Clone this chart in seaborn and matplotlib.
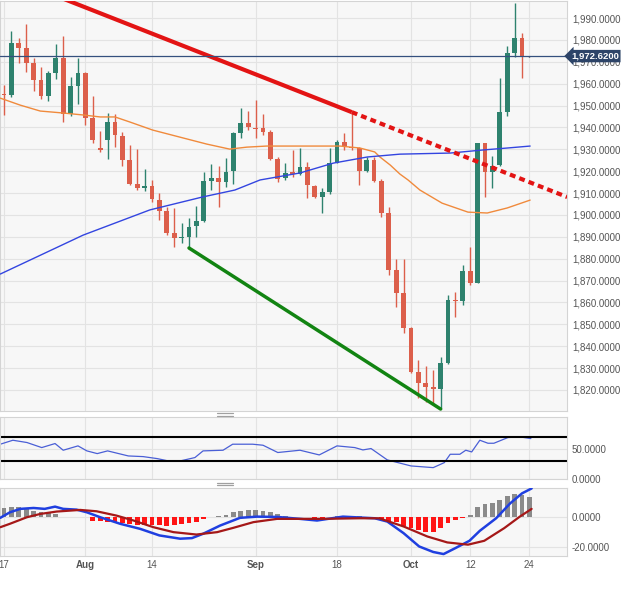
import numpy as np
import pandas as pd
import seaborn as sns
import matplotlib.pyplot as plt
import matplotlib.transforms as mtransforms
from matplotlib.lines import Line2D

# daily candles, trading days 17 Jul .. 24 Oct (index 0 .. 71)
opens = [1955.2, 1954.8, 1978.6, 1976.3, 1969.4, 1961.7, 1954.4, 1964.9, 1971.7, 1946.1,
         1958.9, 1964.9, 1944.3, 1930.5, 1934.2, 1942.5, 1936.0, 1925.1, 1914.1, 1912.3,
         1913.2, 1906.8, 1901.8, 1891.7, 1889.5, 1890.0, 1894.9, 1897.2, 1915.5, 1916.9,
         1915.0, 1920.0, 1937.4, 1942.0, 1939.7, 1939.7, 1937.9, 1925.6, 1916.9, 1919.6,
         1918.7, 1921.9, 1913.2, 1908.2, 1910.5, 1923.7, 1933.3, 1931.1, 1930.6, 1920.0,
         1925.1, 1915.5, 1900.9, 1874.9, 1864.3, 1848.3, 1828.2, 1823.2, 1821.4, 1820.4,
         1832.3, 1861.1, 1860.6, 1874.4, 1868.9, 1932.9, 1919.6, 1922.8, 1947.0, 1974.0,
         1980.9, 1972.2]
highs = [1959.4, 1984.1, 1980.9, 1987.3, 1971.7, 1967.6, 1965.8, 1978.1, 1981.8, 1963.0,
         1971.7, 1965.3, 1954.4, 1938.4, 1946.6, 1946.1, 1937.9, 1932.0, 1930.1, 1921.0,
         1916.0, 1910.0, 1903.6, 1903.2, 1896.3, 1898.6, 1904.1, 1919.6, 1923.3, 1922.4,
         1926.0, 1937.9, 1948.9, 1947.5, 1952.5, 1946.1, 1938.8, 1926.5, 1923.7, 1929.7,
         1930.6, 1924.2, 1913.7, 1912.3, 1930.6, 1934.2, 1937.4, 1947.0, 1931.1, 1926.5,
         1926.5, 1916.4, 1903.6, 1879.9, 1879.9, 1848.8, 1833.7, 1830.9, 1829.1, 1835.0,
         1863.4, 1864.8, 1877.1, 1885.3, 1932.9, 1932.9, 1926.9, 1962.6, 1977.2, 1996.9,
         1983.1, 1972.8]
lows = [1945.7, 1953.9, 1969.4, 1965.3, 1956.6, 1953.0, 1952.1, 1962.1, 1942.5, 1945.2,
        1950.7, 1941.1, 1932.9, 1928.8, 1925.6, 1931.0, 1922.4, 1913.7, 1911.4, 1910.9,
        1905.9, 1897.7, 1890.8, 1885.3, 1887.2, 1884.9, 1890.0, 1896.8, 1911.4, 1903.6,
        1912.8, 1914.1, 1935.2, 1938.8, 1935.2, 1936.5, 1925.1, 1915.0, 1916.0, 1917.3,
        1918.2, 1907.7, 1907.7, 1900.9, 1909.6, 1923.7, 1929.7, 1929.7, 1913.7, 1919.6,
        1915.0, 1899.1, 1872.5, 1857.9, 1846.0, 1827.8, 1816.3, 1814.5, 1814.0, 1811.3,
        1832.0, 1853.3, 1858.8, 1868.0, 1868.9, 1908.2, 1912.3, 1922.4, 1945.2, 1972.2,
        1962.6, 1972.0]
closes = [1954.8, 1978.6, 1976.3, 1969.4, 1961.7, 1954.4, 1964.9, 1971.7, 1946.1, 1958.9,
          1964.9, 1944.3, 1934.2, 1929.7, 1942.5, 1936.5, 1925.1, 1914.1, 1912.3, 1913.2,
          1907.3, 1901.8, 1891.7, 1889.5, 1890.0, 1894.5, 1897.2, 1915.5, 1916.9, 1915.0,
          1919.6, 1937.4, 1942.0, 1940.2, 1939.3, 1937.9, 1925.6, 1916.4, 1919.2, 1918.7,
          1921.9, 1913.7, 1908.2, 1910.5, 1923.7, 1933.3, 1931.5, 1930.6, 1920.0, 1925.1,
          1915.5, 1900.9, 1874.9, 1864.3, 1848.3, 1828.2, 1823.2, 1821.4, 1820.4, 1832.3,
          1861.1, 1860.6, 1874.4, 1868.9, 1932.9, 1919.6, 1922.4, 1947.0, 1974.0, 1980.9,
          1972.2, 1972.62]
last_price = 1972.62

# moving averages (read at sparse points)
ma_orange_x = [-0.5, 2.2, 4.9, 8, 10.7, 13, 15, 17, 20.1, 24.2, 27.4, 30.5, 32.8, 35.5, 40,
               45.4, 48.1, 50.1, 50.8, 52.2, 53.5, 54.6, 56.2, 59.2, 62.7, 65.3, 68, 71.1]
ma_orange_y = [1953.4, 1950.2, 1947.5, 1946.6, 1945.7, 1944.8, 1944.8, 1942.5, 1938.8, 1935.2,
               1932.4, 1930.1, 1931.0, 1931.5, 1931.5, 1931.5, 1930.6, 1928.8, 1926.5, 1922.8,
               1918.7, 1916.0, 1911.4, 1905.4, 1901.3, 1900.9, 1903.2, 1906.8]
ma_blue_x = [-0.5, 10.7, 19.7, 26.8, 31.2, 34.6, 40, 44.5, 49.1, 53.5, 60.3, 64.7, 68, 71.1]
ma_blue_y = [1873.0, 1890.8, 1902.3, 1908.2, 1911.4, 1916.0, 1919.2, 1923.7, 1926.5, 1927.8,
             1928.3, 1929.7, 1930.6, 1931.5]

# trend lines
res_x = [0, 47, 76.1]
res_y = [2009.5, 1947.0, 1908.2]
sup_x = [25, 59]
sup_y = [1884.9, 1811.3]

# RSI
rsi_x = [-0.5, 1.2, 3.1, 5.1, 6.9, 8, 10, 11.2, 12.6, 14, 16.8, 18.8, 20.7, 22.2, 23.8, 25.8,
         26.9, 29.6, 30.9, 33.6, 35, 37, 40, 42.6, 45, 47.4, 48.5, 49.6, 51.8, 55, 58, 59.5,
         60.3, 61.6, 62.4, 63.2, 64.3, 65.4, 66.2, 68.1, 69.7, 71.2]
rsi_y = [57.8, 64.4, 60.6, 52.2, 58.9, 47.8, 55.0, 46.7, 42.2, 46.7, 38.3, 37.2, 33.9, 30.0,
         30.0, 35.6, 46.7, 47.8, 57.8, 57.8, 56.1, 44.0, 47.8, 40.0, 55.0, 52.2, 48.3, 50.6,
         31.7, 21.7, 18.9, 27.2, 41.1, 41.1, 47.8, 45.0, 64.4, 59.4, 59.4, 68.9, 70.0, 67.2]

# MACD
macd_x = [-0.5, 0.8, 2.2, 4, 5.5, 6.9, 8, 9.8, 11.2, 13, 15.7, 18.4, 21, 23.8, 25.4, 26.9,
          29.2, 31.9, 34.2, 36.9, 40, 42.3, 45.8, 50.1, 51.8, 54, 56.1, 58, 59.4, 61, 62.9,
          64.3, 66.5, 68.4, 70, 71.3]
macd_y = [-0.4, 3.3, 5.6, 6.2, 5.6, 7.1, 5.6, 5.1, 3.3, 0.0, -4.4, -7.8, -12.2, -14.4, -14.0,
          -11.1, -5.6, -0.4, 0.4, 0.2, -1.1, -2.2, 0.4, -0.7, -2.9, -10.7, -19.6, -23.3, -24.7,
          -20.7, -15.8, -9.1, -0.7, 9.3, 16.0, 19.3]
signal_x = [-0.5, 0.8, 3.1, 4.9, 7.1, 10.3, 12.5, 15.2, 17.5, 20.2, 22.9, 26, 28.8, 31, 33.7,
            36.9, 40, 43, 48, 50.7, 54, 57.2, 59.9, 62.7, 64.9, 67.6, 69.7, 71.3]
signal_y = [-6.7, -4.4, 0.0, 2.2, 3.8, 4.9, 4.0, 1.1, -2.2, -6.7, -10.0, -11.6, -10.0, -7.1,
            -3.3, -1.1, -1.1, -1.1, -0.7, -0.7, -6.2, -12.9, -16.9, -18.4, -15.8, -7.3, 0.4, 5.6]
hist = [6.2, 6.7, 7.1, 6.2, 4.4, 3.3, 2.9, 2.2, 0.4, 0.4, 0.4, 0.2, -2.2, -2.7, -2.9, -3.3,
        -4.0, -4.4, -4.9, -4.9, -4.9, -5.1, -5.6, -5.1, -4.4, -3.8, -2.9, -1.1, 0.4, 0.9,
        1.6, 3.3, 4.4, 4.9, 4.9, 4.4, 3.3, 2.2, 1.1, 0.4, 0.4, 0.2, -0.7, -0.4, 0.4, 1.1,
        1.1, 1.1, 0.7, 0.2, 0.2, -1.3, -2.2, -3.3, -5.6, -6.9, -8.4, -9.6, -9.6, -7.3, -4.0,
        -1.8, -0.5, 1.6, 7.1, 8.7, 9.8, 11.6, 14.4, 15.3, 14.9, 13.6]

tick_idx = [0, 11, 20, 34, 45, 55, 63, 71]
tick_labels = ["17", "Aug", "14", "Sep", "18", "Oct", "12", "24"]
month_labels = ["Aug", "Sep", "Oct"]

GREEN = "#2e826e"
RED = "#dc5f4b"
LABEL = "#555555"

sns.set_style("whitegrid", {"axes.facecolor": "#f7f7f7", "grid.color": "#e3e3e3",
                            "axes.edgecolor": "#d4d4d4"})
plt.rcParams["font.family"] = ["Liberation Sans", "DejaVu Sans"]
plt.rcParams["axes.linewidth"] = 0.8
plt.rcParams["grid.linewidth"] = 0.8

W, H = 631, 589
fig = plt.figure(figsize=(W / 100, H / 100), dpi=100)


def box(x0, y0, x1, y1):
    return [x0 / W, 1 - y1 / H, (x1 - x0) / W, (y1 - y0) / H]


ax = fig.add_axes(box(0, 1, 567, 411))
ax_rsi = fig.add_axes(box(0, 417, 567, 479))
ax_macd = fig.add_axes(box(0, 488, 567, 556))

# candles
df = pd.DataFrame({"o": opens, "h": highs, "l": lows, "c": closes})
df["i"] = np.arange(len(df))
colors = np.where(df.c >= df.o, GREEN, RED).astype(object)
colors[-1] = "#222222"
ax.vlines(df.i, df.l, df.h, colors=colors, lw=1, zorder=3)
body = (df.c - df.o).abs().clip(lower=0.6)
ax.bar(df.i, body, bottom=df[["o", "c"]].min(axis=1), width=0.66, color=colors,
       linewidth=0, zorder=4)

sns.lineplot(x=ma_orange_x, y=ma_orange_y, ax=ax, color="#f08a3c", lw=1, zorder=5)
sns.lineplot(x=ma_blue_x, y=ma_blue_y, ax=ax, color="#3345e0", lw=1, zorder=5)

ax.plot(res_x[:2], res_y[:2], color="#e31414", lw=3, solid_capstyle="butt", zorder=6)
ax.plot(res_x[1:], res_y[1:], color="#e31414", lw=3, ls=(0, (1.4, 1.0)), zorder=6)
ax.plot(sup_x, sup_y, color="#128412", lw=2.5, zorder=6)

ax.axhline(last_price, color="#34507e", lw=0.9, zorder=7)

ax.set_xlim(-0.54, 76.08)
ax.set_ylim(1810.4, 1997.8)
ax.set_yticks(np.arange(1820, 1991, 10))
ax.set_yticklabels([f"{v:,.4f}" for v in np.arange(1820, 1991, 10)])

trans = mtransforms.blended_transform_factory(ax.transAxes, ax.transData)
ax.text(1.007, last_price, "1,972.6200", transform=trans, ha="left", va="center",
        fontsize=6.8, color="white", fontweight="bold", clip_on=False, zorder=10,
        bbox=dict(boxstyle="larrow,pad=0.18", fc="#2d4468", ec="none"))

# RSI
sns.lineplot(x=rsi_x, y=rsi_y, ax=ax_rsi, color="#4a5fd6", lw=0.9)
ax_rsi.axhline(70, color="black", lw=1.5)
ax_rsi.axhline(30, color="black", lw=1.5)
ax_rsi.set_ylim(0, 103)
ax_rsi.set_yticks([0, 50])
ax_rsi.set_yticklabels(["0.0000", "50.0000"])

# MACD
hist_arr = np.array(hist)
ax_macd.bar(np.arange(len(hist)), hist_arr, width=0.66, linewidth=0,
            color=np.where(hist_arr >= 0, "#8a8a8a", "#ff1414"), zorder=3)
sns.lineplot(x=macd_x, y=macd_y, ax=ax_macd, color="#1f3fe0", lw=1.8, zorder=4)
sns.lineplot(x=signal_x, y=signal_y, ax=ax_macd, color="#a51818", lw=1.6, zorder=4)
ax_macd.set_ylim(-26, 19.6)
ax_macd.set_yticks([-20, 0])
ax_macd.set_yticklabels(["-20.0000", "0.0000"])

for a in (ax, ax_rsi, ax_macd):
    a.set_xlim(-0.54, 76.08)
    a.set_xticks(tick_idx)
    a.set_xlabel("")
    a.set_ylabel("")
    a.yaxis.tick_right()
    a.tick_params(axis="y", length=0, pad=3.5, labelsize=7, labelcolor=LABEL)
    a.tick_params(axis="x", length=0)
    for s in a.spines.values():
        s.set_color("#d4d4d4")

ax.tick_params(axis="x", labelbottom=False)
ax_rsi.tick_params(axis="x", labelbottom=False)
ax_macd.set_xticklabels(tick_labels)
ax_macd.tick_params(axis="x", pad=3, labelsize=7, labelcolor=LABEL)
for t in ax_macd.get_xticklabels():
    if t.get_text() in month_labels:
        t.set_fontweight("bold")

# pane resize handles
for yy in (413.2, 415.6, 482.6, 485.0):
    fig.add_artist(Line2D([217 / W, 233 / W], [1 - yy / H, 1 - yy / H],
                          transform=fig.transFigure, color="#a0a0a0", lw=0.9))

fig.savefig("out.png", dpi=100)
